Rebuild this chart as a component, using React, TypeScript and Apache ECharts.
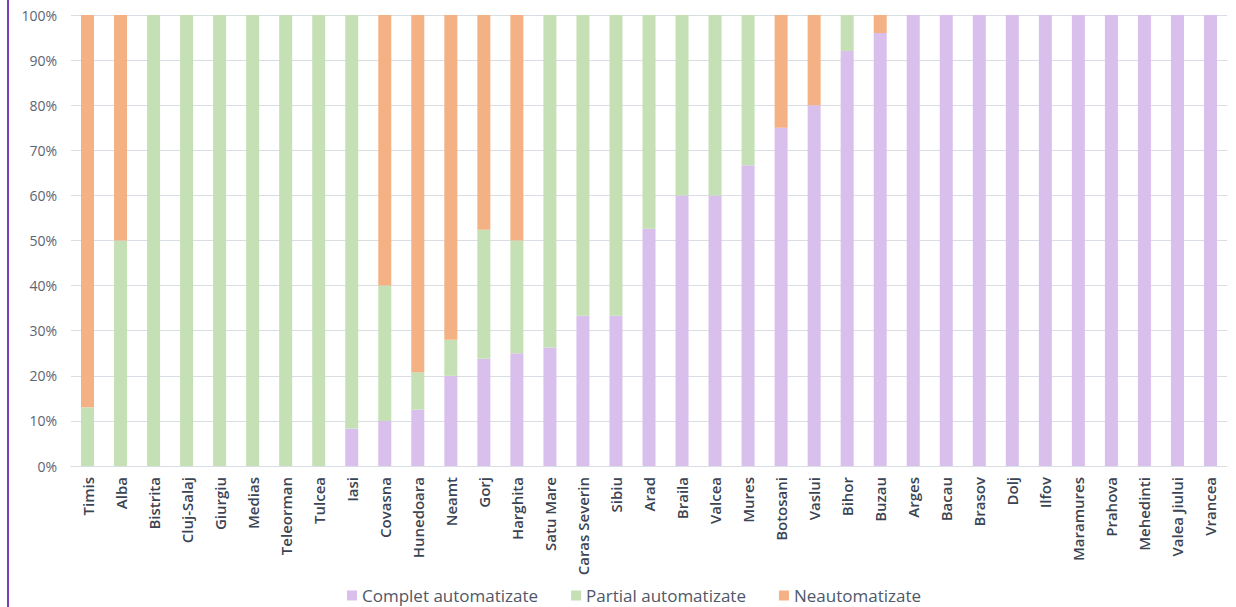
import React, { useEffect, useRef } from "react";
import * as echarts from "echarts";

const categories = [
  "Timis", "Alba", "Bistrita", "Cluj-Salaj", "Giurgiu", "Medias", "Teleorman", "Tulcea",
  "Iasi", "Covasna", "Hunedoara", "Neamt", "Gorj", "Harghita", "Satu Mare", "Caras Severin",
  "Sibiu", "Arad", "Braila", "Valcea", "Mures", "Botosani", "Vaslui", "Bihor", "Buzau",
  "Arges", "Bacau", "Brasov", "Dolj", "Ilfov", "Maramures", "Prahova", "Mehedinti",
  "Valea Jiului", "Vrancea",
];

const completAutomatizate = [
  0, 0, 0, 0, 0, 0, 0, 0,
  8.3, 10, 12.5, 20, 23.8, 25, 26.3, 33.3,
  33.3, 52.6, 60, 60, 66.7, 75, 80, 92, 96,
  100, 100, 100, 100, 100, 100, 100, 100,
  100, 100,
];

const partialAutomatizate = [
  13, 50, 100, 100, 100, 100, 100, 100,
  91.7, 30, 8.3, 8, 28.6, 25, 73.7, 66.7,
  66.7, 47.4, 40, 40, 33.3, 0, 0, 8, 0,
  0, 0, 0, 0, 0, 0, 0, 0,
  0, 0,
];

const neautomatizate = [
  87, 50, 0, 0, 0, 0, 0, 0,
  0, 60, 79.2, 72, 47.6, 50, 0, 0,
  0, 0, 0, 0, 0, 25, 20, 0, 4,
  0, 0, 0, 0, 0, 0, 0, 0,
  0, 0,
];

const yTicks = [0, 10, 20, 30, 40, 50, 60, 70, 80, 90, 100];

const FONT = "'Open Sans', 'Noto Sans', sans-serif";

export default function App() {
  const ref = useRef<HTMLDivElement>(null);

  useEffect(() => {
    document.body.style.margin = "0";
    if (!ref.current) return;
    const chart = echarts.init(ref.current, undefined, { renderer: "svg" });
    const barCommon = {
      type: "bar" as const,
      stack: "total",
      barWidth: 13,
    };
    chart.setOption({
      animation: false,
      backgroundColor: "#ffffff",
      textStyle: { fontFamily: FONT },
      grid: { left: 71, right: 9, top: 15, bottom: 141, containLabel: false },
      legend: {
        top: 582,
        left: 342,
        icon: "rect",
        itemWidth: 10,
        itemHeight: 10,
        itemGap: 33,
        textStyle: { fontFamily: FONT, fontSize: 17, color: "#4F5868" },
        data: ["Complet automatizate", "Partial automatizate", "Neautomatizate"],
      },
      xAxis: {
        type: "category",
        data: categories,
        axisTick: { show: false },
        axisLine: { show: true, lineStyle: { color: "#D9DDE4", width: 1 } },
        axisLabel: {
          interval: 0,
          rotate: 90,
          margin: 11,
          fontFamily: FONT,
          fontSize: 15,
          fontWeight: 600,
          color: "#3B4453",
        },
      },
      yAxis: {
        type: "value",
        min: 0,
        max: 100,
        interval: 10,
        axisLine: { show: false },
        axisTick: { show: false },
        splitLine: { show: true, lineStyle: { color: "#D9DDE4", width: 1 } },
        axisLabel: {
          margin: 14,
          fontFamily: FONT,
          fontSize: 14,
          color: "#5B6475",
          formatter: (v: number) => (yTicks.includes(v) ? `${v}%` : ""),
        },
      },
      series: [
        { ...barCommon, name: "Complet automatizate", data: completAutomatizate, itemStyle: { color: "#D9BFEC" } },
        { ...barCommon, name: "Partial automatizate", data: partialAutomatizate, itemStyle: { color: "#C5E0B4" } },
        { ...barCommon, name: "Neautomatizate", data: neautomatizate, itemStyle: { color: "#F4B183" } },
      ],
      graphic: [
        {
          type: "rect",
          left: 7,
          top: 0,
          shape: { x: 0, y: 0, width: 2, height: 607 },
          style: { fill: "#7B3FB5" },
          silent: true,
        },
      ],
    });
    return () => chart.dispose();
  }, []);

  return (
    <div
      ref={ref}
      style={{ position: "absolute", left: 0, top: 0, width: 1236, height: 607 }}
    />
  );
}
